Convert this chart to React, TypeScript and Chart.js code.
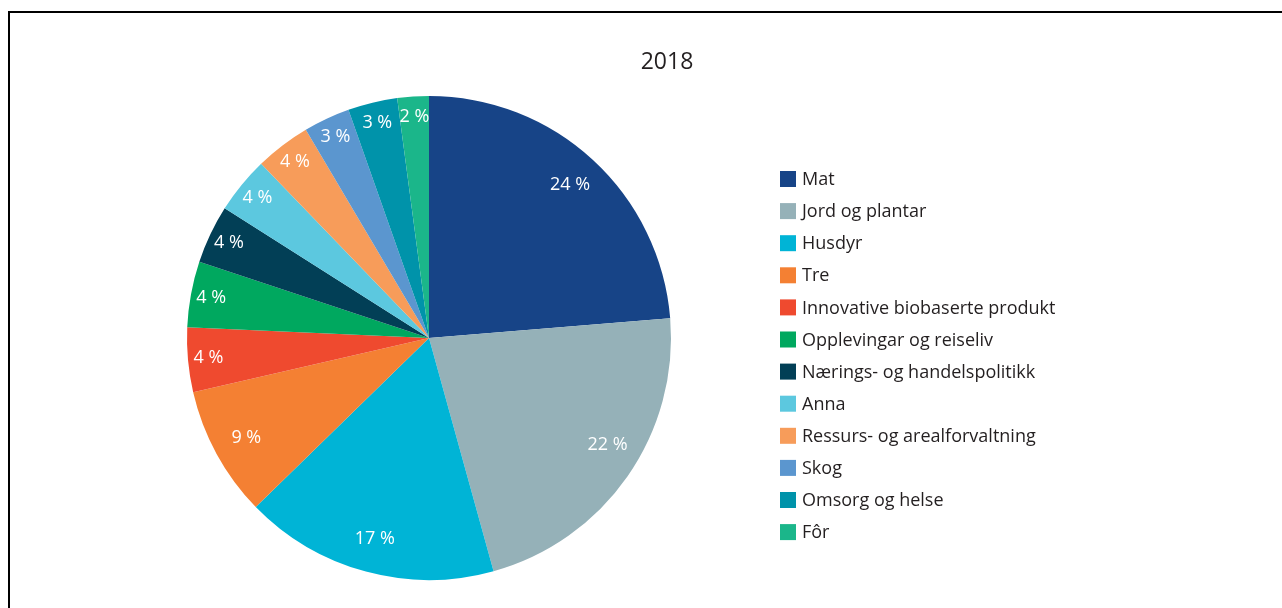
import React, { useEffect, useRef } from "react";
import { Chart, registerables } from "chart.js";

Chart.register(...registerables);

const title = "2018";
const categories = [
  "Mat",
  "Jord og plantar",
  "Husdyr",
  "Tre",
  "Innovative biobaserte produkt",
  "Opplevingar og reiseliv",
  "Nærings- og handelspolitikk",
  "Anna",
  "Ressurs- og arealforvaltning",
  "Skog",
  "Omsorg og helse",
  "Fôr",
];
const shares = [23.7, 22.0, 17.0, 8.7, 4.3, 4.4, 3.9, 3.8, 3.7, 3.1, 3.3, 2.1];
const colors = [
  "#174487",
  "#95b1b8",
  "#00b4d6",
  "#f48033",
  "#ef4a2f",
  "#00a85f",
  "#023f56",
  "#5cc8df",
  "#f79c5a",
  "#5b96cf",
  "#0093aa",
  "#1bb68a",
];

const FONT = "'Open Sans', 'Noto Sans', sans-serif";
const TEXT = "#231f20";

const overlayPlugin = {
  id: "overlay",
  afterDatasetsDraw(chart: any) {
    const ctx = chart.ctx;
    const meta = chart.getDatasetMeta(0);
    ctx.save();
    // slice labels
    ctx.fillStyle = "#ffffff";
    ctx.font = `18px ${FONT}`;
    ctx.textAlign = "center";
    ctx.textBaseline = "middle";
    meta.data.forEach((arc: any, i: number) => {
      const p = arc.getProps(["x", "y", "startAngle", "endAngle", "outerRadius"], true);
      const mid = (p.startAngle + p.endAngle) / 2 - (i === 1 ? 0.07 : 0);
      const f = shares[i] > 5 ? 0.86 : 0.915;
      const r = p.outerRadius * f;
      const x = p.x + Math.cos(mid) * r;
      const y = p.y + Math.sin(mid) * r;
      ctx.fillText(`${Math.round(shares[i])} %`, x, y);
    });
    // title
    ctx.fillStyle = TEXT;
    ctx.font = `23px ${FONT}`;
    ctx.fillText(title, 657, 49);
    // legend
    ctx.textAlign = "left";
    ctx.font = `18px ${FONT}`;
    categories.forEach((c, i) => {
      const cy = 166 + i * 32.1;
      ctx.fillStyle = colors[i];
      ctx.fillRect(770, cy - 8, 16, 16);
      ctx.fillStyle = TEXT;
      ctx.fillText(c, 792, cy + 1);
    });
    ctx.restore();
  },
};

export default function App() {
  const ref = useRef<HTMLCanvasElement>(null);
  useEffect(() => {
    if (!ref.current) return;
    const chart = new Chart(ref.current, {
      type: "pie",
      data: {
        labels: categories,
        datasets: [
          {
            data: shares,
            backgroundColor: colors,
            borderWidth: 0,
          },
        ],
      },
      options: {
        responsive: false,
        animation: false,
        layout: { padding: { left: 177, top: 83, right: 611, bottom: 28 } },
        plugins: {
          legend: { display: false },
          title: { display: false },
          tooltip: { enabled: false },
        },
      },
      plugins: [overlayPlugin],
    });
    return () => chart.destroy();
  }, []);
  return (
    <div
      style={{
        position: "absolute",
        left: 8,
        top: 11,
        borderTop: "2px solid #000",
        borderLeft: "2px solid #000",
        width: 1272,
        height: 595,
      }}
    >
      <canvas ref={ref} width={1272} height={595} style={{ display: "block" }} />
    </div>
  );
}
